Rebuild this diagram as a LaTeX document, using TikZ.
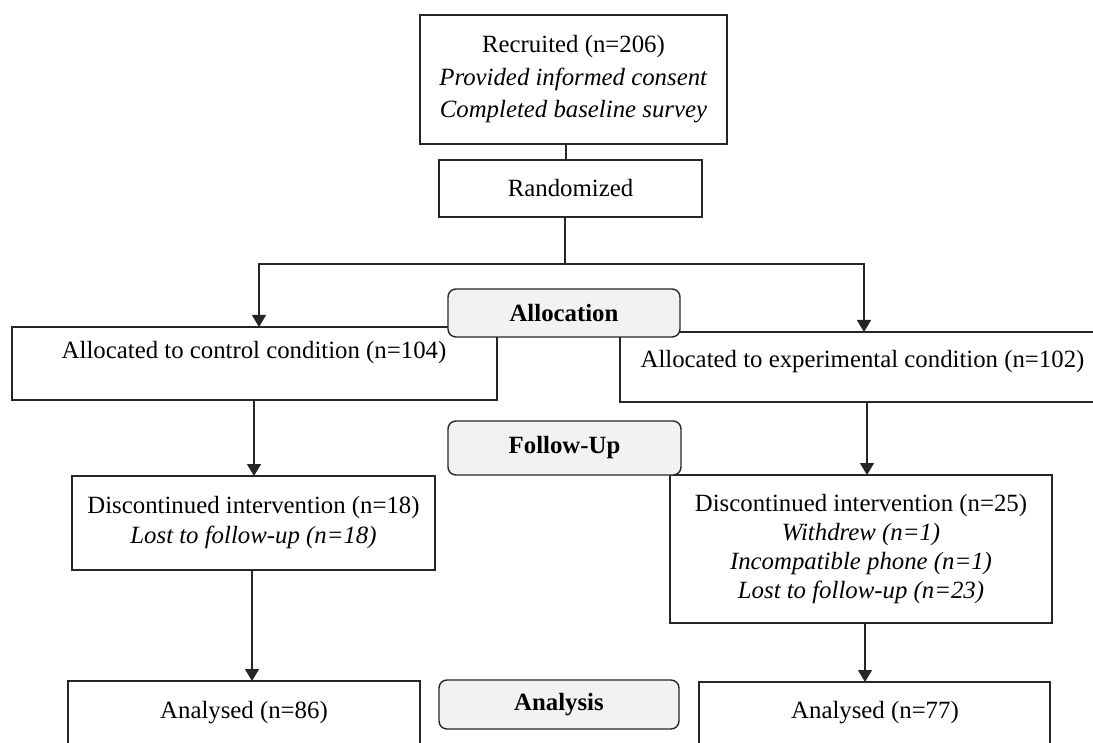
\documentclass[tikz,border=0pt]{standalone}
\usepackage{fontspec}
\setmainfont{Liberation Serif}
\usetikzlibrary{arrows.meta}
\begin{document}
\begin{tikzpicture}[x=1pt,y=-1pt,
  box/.style={draw=black!85, line width=1.4pt, fill=white, inner sep=0pt, outer sep=0pt, align=center},
  lbl/.style={draw=black!85, line width=1.4pt, fill=black!5, rounded corners=8pt, inner sep=0pt, outer sep=0pt, font=\fontsize{24.8}{30}\selectfont\bfseries},
  txt/.style={inner sep=0pt, align=center},
  conn/.style={line width=1.3pt, draw=black!85},
  arr/.style={conn, -{Triangle[length=12pt,width=14pt]}},
  font=\fontsize{24.8}{30}\selectfont]
\useasboundingbox (0,0) rectangle (1093,743);
\fill[white] (0,0) rectangle (1093,743);
\clip (0,0) rectangle (1093,743);

% content boxes
\node[box, minimum width=307, minimum height=129, font=\fontsize{24.8}{32.5}\selectfont] (rec) at (573.5,79.5)
  {Recruited (n=206)\\ \textit{Provided informed consent}\\ \textit{Completed baseline survey}};
\node[box, minimum width=263, minimum height=57] (rand) at (570.5,188.5) {Randomized};

\node[box, minimum width=485, minimum height=73] (a1) at (254.5,363.5) {};
\node[txt] (a1t) at (254,353) {Allocated to control condition (n=104)};
\node[box, minimum width=490, minimum height=70] (a2) at (865,367) {};
\node[txt] (a2t) at (862.5,362) {Allocated to experimental condition (n=102)};

\node[box, minimum width=363, minimum height=94, font=\fontsize{24.8}{30}\selectfont] (d1) at (253.5,523)
  {Discontinued intervention (n=18)\\ \textit{Lost to follow-up (n=18)}};
\node[box, minimum width=382, minimum height=148, font=\fontsize{24.8}{29}\selectfont] (d2) at (861,549)
  {Discontinued intervention (n=25)\\ \textit{Withdrew (n=1)}\\ \textit{Incompatible phone (n=1)}\\ \textit{Lost to follow-up (n=23)}};

\node[box, minimum width=352, minimum height=89] (n1) at (244,725.5) {};
\node[txt] (n1t) at (244,713) {Analysed (n=86)};
\node[box, minimum width=351, minimum height=88] (n2) at (874.5,726) {};
\node[txt] (n2t) at (875,713) {Analysed (n=77)};

% connectors
\coordinate (tx) at (566,0);
\coordinate (split) at (565,264);
\coordinate (sl) at (259,264);
\coordinate (sr) at (864,264);
\coordinate (lc) at (254,0);
\coordinate (rc) at (867,0);
\coordinate (lc2) at (252,0);
\coordinate (rc2) at (865,0);

\draw[conn] (rec.south -| tx) -- (rand.north -| tx);
\draw[conn] (rand.south -| split) -- (split);
\draw[arr] (split) -| (sl |- a1.north);
\draw[arr] (split) -| (sr |- a2.north);
\draw[arr] (a1.south -| lc) -- (d1.north -| lc);
\draw[arr] (a2.south -| rc) -- (d2.north -| rc);
\draw[arr] (d1.south -| lc2) -- (n1.north -| lc2);
\draw[arr] (d2.south -| rc2) -- (n2.north -| rc2);

% phase labels
\node[lbl, minimum width=232, minimum height=48] (alloc) at (564,313) {Allocation};
\node[lbl, minimum width=233, minimum height=54] (fu) at (564.5,448) {Follow-Up};
\node[lbl, minimum width=240, minimum height=49] (ana) at (559,704.5) {Analysis};
\end{tikzpicture}
\end{document}
